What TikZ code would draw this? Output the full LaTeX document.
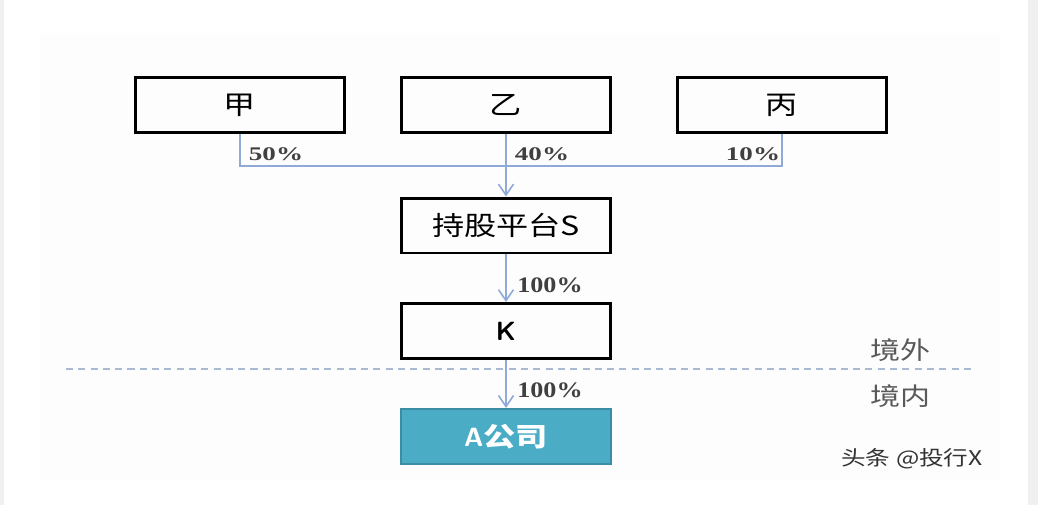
\documentclass[tikz,border=0pt]{standalone}
\usepackage{fontspec}
\usepackage{tikz}
\usetikzlibrary{positioning, arrows.meta}

\newfontfamily\cjkfont[FakeStretch=1.22]{Noto Sans CJK SC}
\newfontfamily\pcttop[FakeStretch=1.4]{Liberation Serif}
\newfontfamily\pctlow[FakeStretch=1.18]{Liberation Serif}

\definecolor{linkblue}{HTML}{8FAAD6}
\definecolor{teal}{HTML}{4BACC6}
\definecolor{tealdark}{HTML}{3A8DA3}
\definecolor{dashgray}{HTML}{A9BBD2}

\begin{document}
\begin{tikzpicture}[
            x=0.02cm, y=-0.02cm,
            box/.style = {rectangle, draw=black, line width=1.7pt, minimum width=4.2cm, minimum height=1.1cm, font=\cjkfont\fontsize{15}{18}\selectfont},
            firm/.style = {box, draw=tealdark, line width=1.2pt, fill=teal, text=white, font=\cjkfont\bfseries\fontsize{15}{18}\selectfont},
            link/.style = {draw=linkblue, line width=0.9pt},
            arrow/.style = {link, -{Straight Barb[length=2.2mm, width=3mm]}},
            share/.style = {font=\pcttop\bfseries\fontsize{11}{13}\selectfont, text=black!75},
            share2/.style = {font=\pctlow\bfseries\fontsize{12.6}{14}\selectfont, text=black!75},
            side/.style = {font=\cjkfont\fontsize{14}{16}\selectfont, text=black!65},
        ]
            % Background
            \useasboundingbox (0,0) rectangle (1038,505);
            \fill[white] (0,0) rectangle (1038,505);
            \fill[black!0.8] (40,33) rectangle (1000,480);
            \fill[black!6] (1028,0) rectangle (1038,505);
            \fill[black!6] (0,0) rectangle (4,505);

            % Shareholders
            \node[box] (jia) at (240,105) {甲};
            \node[box] (yi) at (506,105) {乙};
            \node[box] (bing) at (782,105) {丙};

            % Holding chain
            \node[box] (S) at (506,225.5) {持股平台S};
            \node[box] (K) at (506,331) {\sffamily\bfseries K};
            \node[firm] (A) at (506,436.5) {\sffamily A\cjkfont 公司};

            % Shares merge into one line
            \coordinate (bus) at (506,166);
            \draw[link] (jia.south) |- (bus) -| (bing.south);
            \draw[arrow] (yi) -- (S);
            \draw[arrow] (S) -- (K);
            \draw[arrow] (K) -- (A);

            % Percentages
            \node[share] (p50) at (276,154) {50\%};
            \node[share] (p40) at (542,154) {40\%};
            \node[share] (p10) at (753,154) {10\%};
            \node[share2] (p100a) at (550,285) {100\%};
            \node[share2] (p100b) at (550,390) {100\%};

            % Border line
            \coordinate (bl) at (66,369);
            \coordinate (br) at (975,369);
            \draw[dashgray, line width=0.9pt, dash pattern=on 4pt off 3pt] (bl) -- (br);
            \node[side] (out) at (900,350) {境外};
            \node[side] (in) at (900,396) {境内};

            % Watermark
            \node[font=\cjkfont\fontsize{11.5}{14}\selectfont, text=black!80] (wm) at (912,459) {头条 @投行X};
        \end{tikzpicture}
\end{document}
